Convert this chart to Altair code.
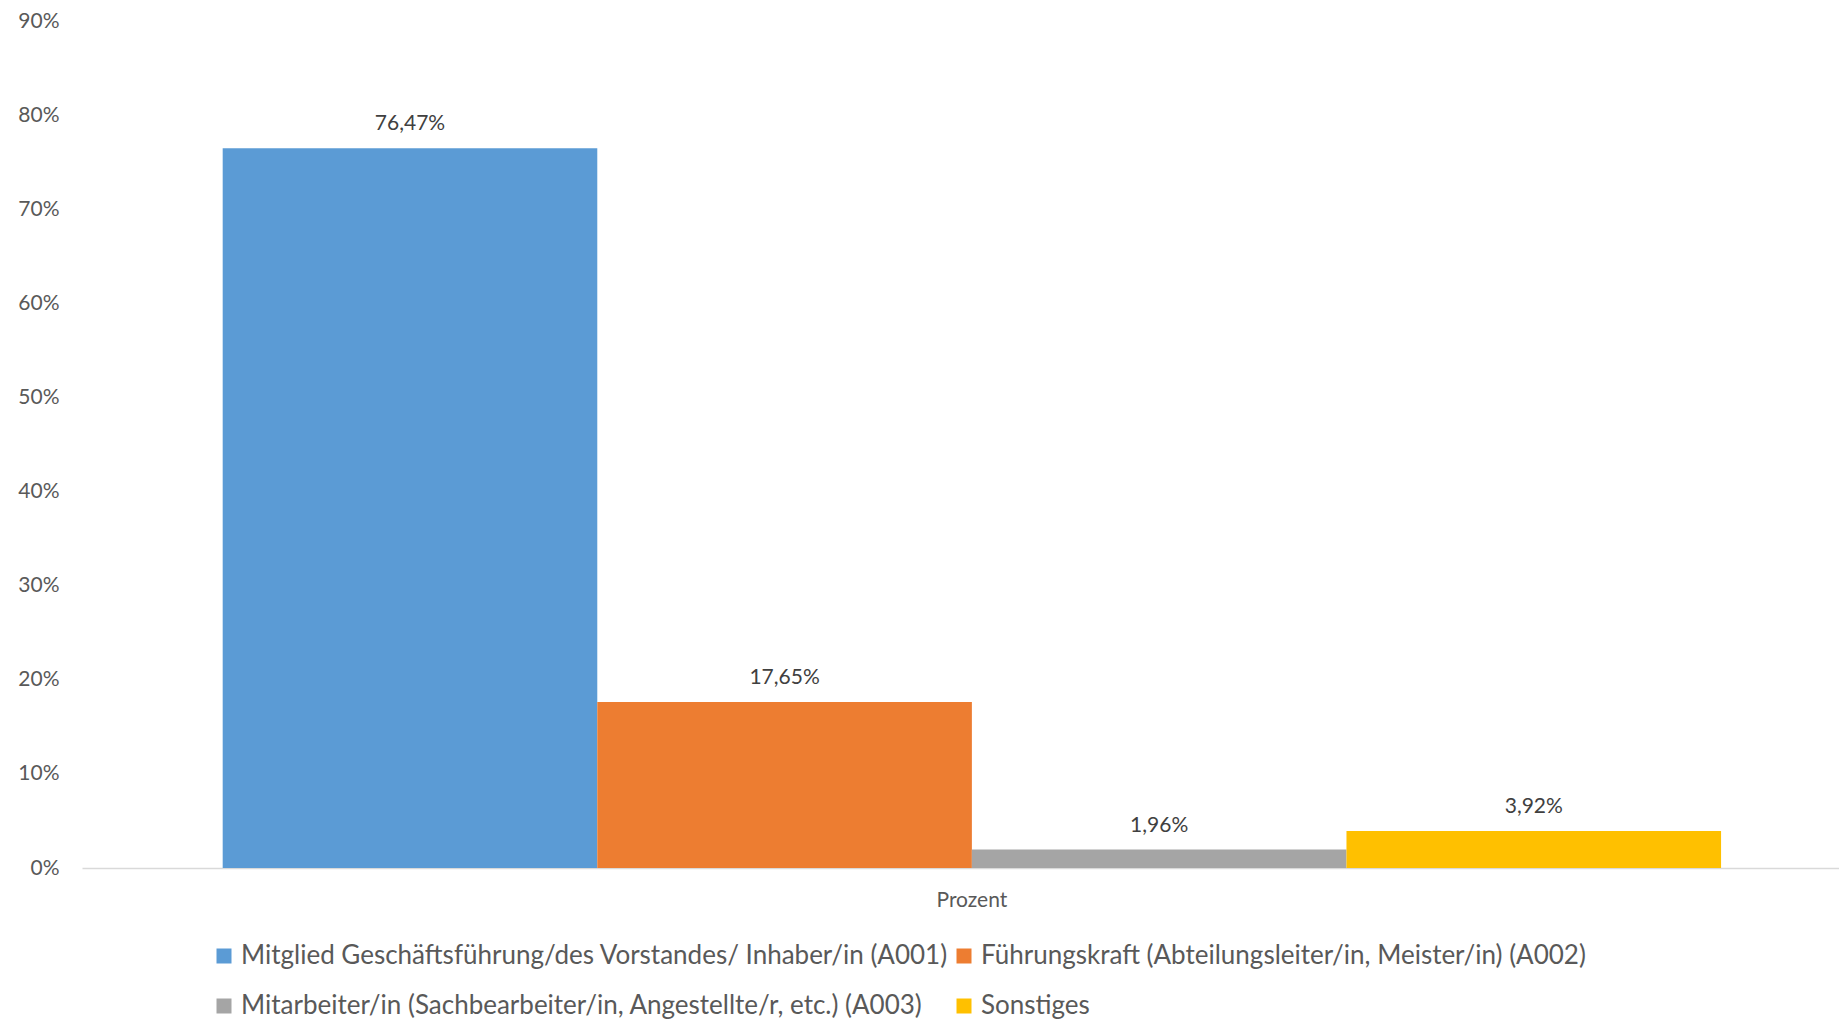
import altair as alt
import pandas as pd

# ---- data ----
category = "Prozent"
series = [
    "Mitglied Geschäftsführung/des Vorstandes/ Inhaber/in (A001)",
    "Führungskraft (Abteilungsleiter/in, Meister/in) (A002)",
    "Mitarbeiter/in (Sachbearbeiter/in, Angestellte/r, etc.) (A003)",
    "Sonstiges",
]
values_pct = [76.47, 17.65, 1.96, 3.92]
colors = ["#5B9BD5", "#ED7D31", "#A5A5A5", "#FFC000"]
y_ticks_pct = [0, 10, 20, 30, 40, 50, 60, 70, 80, 90]

df = pd.DataFrame({
    "Kategorie": [category] * len(series),
    "Serie": series,
    "Wert": [v / 100 for v in values_pct],
})

FONT = "Lato"

base = alt.Chart(df).encode(
    x=alt.X(
        "Kategorie:N",
        title=None,
        scale=alt.Scale(paddingInner=0, paddingOuter=0.0863, align=0.544),
        axis=alt.Axis(
            labelAngle=0, ticks=False, domain=True, domainColor="#D9D9D9",
            domainWidth=1.5, labelFont=FONT, labelFontSize=21,
            labelColor="#595959", labelPadding=21, grid=False,
        ),
    ),
    xOffset=alt.XOffset(
        "Serie:N", sort=series,
        scale=alt.Scale(domain=series, paddingInner=0, paddingOuter=0),
    ),
    y=alt.Y(
        "Wert:Q",
        title=None,
        scale=alt.Scale(domain=[0, 0.9], nice=False, zero=True),
        axis=alt.Axis(
            values=[t / 100 for t in y_ticks_pct], format=".0%", grid=False,
            ticks=False, domain=False, labelFont=FONT, labelFontSize=21,
            labelColor="#595959", labelPadding=23,
        ),
    ),
)

bars = base.mark_bar().encode(
    color=alt.Color(
        "Serie:N",
        sort=series,
        scale=alt.Scale(domain=series, range=colors),
        legend=alt.Legend(
            title=None, orient="none", legendX=129, legendY=922,
            direction="horizontal", columns=2, symbolType="square",
            symbolSize=225, symbolStrokeWidth=0, labelFont=FONT,
            labelFontSize=26, labelColor="#595959", labelOffset=4,
            columnPadding=2, rowPadding=24, labelLimit=1000,
        ),
    )
)

labels = base.mark_text(
    baseline="middle", dy=-24, font=FONT, fontSize=21, color="#404040"
).encode(text=alt.Text("Wert:Q", format=".2%"))

chart = (
    (bars + labels)
    .properties(
        width=1757, height=847, autosize="none",
        padding={"left": 74, "top": 13, "right": 0, "bottom": 162},
    )
    .configure(
        locale={
            "number": {
                "decimal": ",", "thousands": ".", "grouping": [3],
                "currency": ["", " €"],
            }
        }
    )
    .configure_view(stroke=None)
)

chart.save("out.html", embed_options={"renderer": "svg", "actions": False})
